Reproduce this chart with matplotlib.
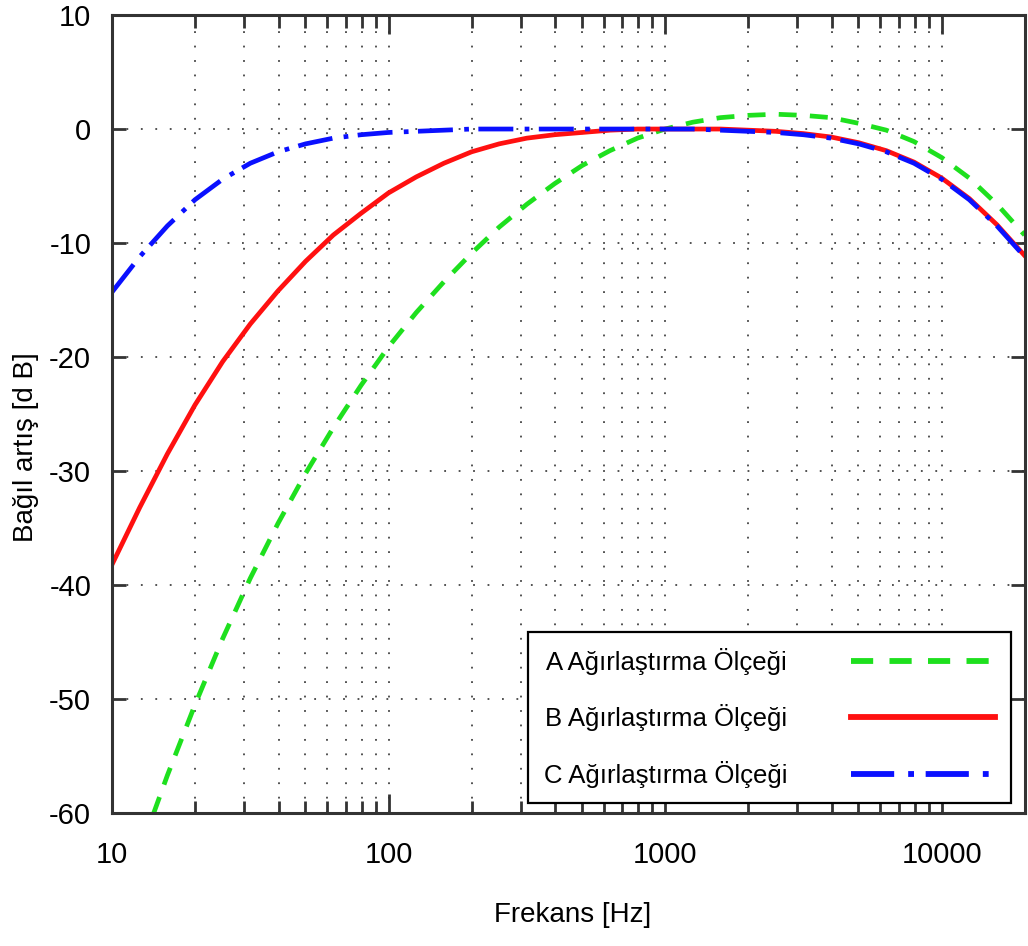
import numpy as np
import matplotlib.pyplot as plt
from matplotlib.ticker import LogLocator, NullFormatter

plt.rcParams['font.family'] = ['Liberation Sans', 'DejaVu Sans']
plt.rcParams['axes.unicode_minus'] = False

# 1/3 octave band centres (Hz) and weighting values (dB)
freq = [10.0, 12.59, 15.85, 19.95, 25.12, 31.62, 39.81, 50.12, 63.10, 79.43,
        100.0, 125.9, 158.5, 199.5, 251.2, 316.2, 398.1, 501.2, 631.0, 794.3,
        1000.0, 1259, 1585, 1995, 2512, 3162, 3981, 5012, 6310, 7943,
        10000, 12589, 15849, 19953]
a_weight = [-70.4, -63.4, -56.7, -50.5, -44.7, -39.4, -34.6, -30.2, -26.2, -22.5,
            -19.1, -16.1, -13.4, -10.9, -8.6, -6.6, -4.8, -3.2, -1.9, -0.8,
            0.0, 0.6, 1.0, 1.2, 1.3, 1.2, 1.0, 0.5, -0.1, -1.1, -2.5, -4.3, -6.6, -9.3]
b_weight = [-38.2, -33.2, -28.5, -24.2, -20.4, -17.1, -14.2, -11.6, -9.3, -7.4,
            -5.6, -4.2, -3.0, -2.0, -1.3, -0.8, -0.5, -0.3, -0.1, 0.0,
            0.0, 0.0, 0.0, -0.1, -0.2, -0.4, -0.7, -1.2, -1.9, -2.9, -4.3, -6.1, -8.4, -11.1]
c_weight = [-14.3, -11.2, -8.5, -6.2, -4.4, -3.0, -2.0, -1.3, -0.8, -0.5,
            -0.3, -0.2, -0.1, 0.0, 0.0, 0.0, 0.0, 0.0, 0.0, 0.0,
            0.0, 0.0, -0.1, -0.2, -0.3, -0.5, -0.8, -1.3, -2.0, -3.0, -4.4, -6.2, -8.5, -11.2]

labels = ['A Ağırlaştırma Ölçeği', 'B Ağırlaştırma Ölçeği', 'C Ağırlaştırma Ölçeği']
x_ticks = [10, 100, 1000, 10000]
y_ticks = list(range(-60, 11, 10))

fig = plt.figure(figsize=(10.28, 9.46), dpi=100)
ax = fig.add_axes([0.109, 0.1406, 0.888, 0.8435])

lw = 3.4
ax.plot(freq, a_weight, color='#1ee01e', lw=lw, linestyle=(0, (3.8, 2.8)), label=labels[0])
ax.plot(freq, b_weight, color='#ff1010', lw=lw, linestyle='-', label=labels[1])
ax.plot(freq, c_weight, color='#0a10ff', lw=lw, linestyle=(0, (7.4, 2.4, 1.0, 2.0)), label=labels[2])

ax.set_xscale('log')
ax.set_xlim(10, 20000)
ax.set_ylim(-60, 10)
ax.set_xticks(x_ticks)
ax.set_xticklabels([str(t) for t in x_ticks])
ax.xaxis.set_minor_locator(LogLocator(base=10, subs=np.arange(2, 10)))
ax.xaxis.set_minor_formatter(NullFormatter())
ax.set_yticks(y_ticks)
ax.set_yticklabels([str(t) for t in y_ticks])

grid_style = dict(color='#444444', linestyle=(0, (1, 7)), linewidth=1.3)
ax.grid(True, which='both', axis='x', **grid_style)
ax.grid(True, which='major', axis='y', **grid_style)

ax.tick_params(which='both', direction='in', top=True, right=True,
               color='#333333', width=2, labelsize=21, pad=15)
ax.tick_params(which='major', axis='x', length=14, pad=20)
ax.tick_params(which='minor', axis='x', length=9)
ax.tick_params(which='major', axis='y', length=10)
for sp in ax.spines.values():
    sp.set_linewidth(2.2)
    sp.set_color('#333333')

ax.set_xlabel('Frekans [Hz]', fontsize=20)
ax.set_ylabel('Bağıl artış [d B]', fontsize=20)
ax.xaxis.set_label_coords(0.505, -0.112)
ax.yaxis.set_label_coords(-0.08, 0.459)

leg = ax.legend(loc='lower left', bbox_to_anchor=(0.456, 0.0125), markerfirst=False,
                fontsize=18.5, handlelength=5.6, handletextpad=2.5, labelspacing=1.15,
                borderpad=0.6, borderaxespad=0, fancybox=False, framealpha=1,
                edgecolor='black')
leg.get_frame().set_linewidth(1.6)
for h in leg.get_lines():
    h.set_linewidth(4.2)

fig.savefig('out.png', dpi=100)
